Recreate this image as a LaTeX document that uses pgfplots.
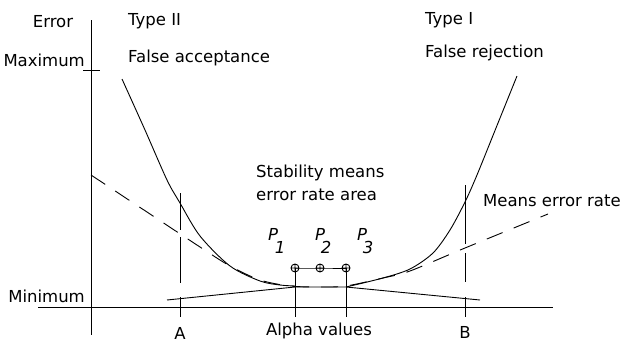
\documentclass[border=0pt]{standalone}
\usepackage{pgfplots}
\pgfplotsset{compat=1.18}
\usepackage{fontspec}
\setmainfont{DejaVu Sans}
\begin{document}
\fontsize{16.5}{19}\selectfont
\begin{tikzpicture}[font=\fontsize{16.5}{19}\selectfont]
\begin{axis}[
  width=625pt, height=343pt, scale only axis,
  xmin=0, xmax=625, ymin=0, ymax=343, y dir=reverse,
  hide axis, clip=false,
]
\path (axis cs:0,0) rectangle (axis cs:625,343);
% axes
\addplot[black, line width=1pt] coordinates {(91,20) (91,335)};
\addplot[black, line width=1pt] coordinates {(38,307) (553,307)};
\addplot[black, line width=1pt] coordinates {(83,70) (100,70)};
% Type II curve
\addplot[black, line width=0.9pt, smooth] coordinates {(122,79) (145,130) (167,180) (180,203) (200,236) (230,266) (260,281) (280,285) (295,286)};
% Type I curve
\addplot[black, line width=0.9pt, smooth] coordinates {(346,287) (383,278) (410,269) (433,253) (450,230) (465,202) (477,175) (496,128) (517,76)};
% mean error rate (dashed)
\addplot[black, line width=0.9pt, dash pattern=on 17pt off 12pt, smooth] coordinates {(91,175) (150,214) (200,247) (230,266) (260,280) (290,286) (320,287) (346,286) (383,278) (410,271) (465,248) (548,214)};
% lower curve
\addplot[black, line width=0.9pt] coordinates {(167,300) (295,287) (346,287) (480,300)};
% A and B verticals
\addplot[black, line width=1pt] coordinates {(180,193) (180,230)};
\addplot[black, line width=1pt] coordinates {(180,237) (180,283)};
\addplot[black, line width=1pt] coordinates {(180,297) (180,317)};
\addplot[black, line width=1pt] coordinates {(465,185) (465,244)};
\addplot[black, line width=1pt] coordinates {(465,253) (465,282)};
\addplot[black, line width=1pt] coordinates {(465,297) (465,317)};
% P verticals
\addplot[black, line width=1pt] coordinates {(295,268) (295,317)};
\addplot[black, line width=1pt] coordinates {(346,268) (346,317)};
% P points
\addplot[black, line width=0.9pt, mark=oplus, mark size=4pt] coordinates {(295,268) (320,268) (346,268)};
% texts
\tikzset{every node/.style={inner sep=0pt, font=\fontsize{16.5}{19}\selectfont}}
\node[anchor=base] at (axis cs:53,27) {Error};
\node[anchor=base east] at (axis cs:85,66) {Maximum};
\node[anchor=base east] at (axis cs:85,302) {Minimum};
\node[anchor=base west] at (axis cs:128,25) {Type II};
\node[anchor=base west] at (axis cs:128,62) {False acceptance};
\node[anchor=base west] at (axis cs:425,24) {Type I};
\node[anchor=base west] at (axis cs:425,57) {False rejection};
\node[anchor=base west] at (axis cs:256,177) {Stability means};
\node[anchor=base west] at (axis cs:256,200) {error rate area};
\node[anchor=base west] at (axis cs:483,206) {Means error rate};
\node[anchor=base] at (axis cs:180,339) {A};
\node[anchor=base] at (axis cs:465,338) {B};
\node[anchor=base] at (axis cs:319,335) {Alpha values};
\node[anchor=base] at (axis cs:273,240) {\textit{P}};
\node[anchor=base] at (axis cs:280,253) {\textit{1}};
\node[anchor=base] at (axis cs:320,240) {\textit{P}};
\node[anchor=base] at (axis cs:326,253) {\textit{2}};
\node[anchor=base] at (axis cs:362,240) {\textit{P}};
\node[anchor=base] at (axis cs:368,253) {\textit{3}};
\end{axis}
\end{tikzpicture}
\end{document}
